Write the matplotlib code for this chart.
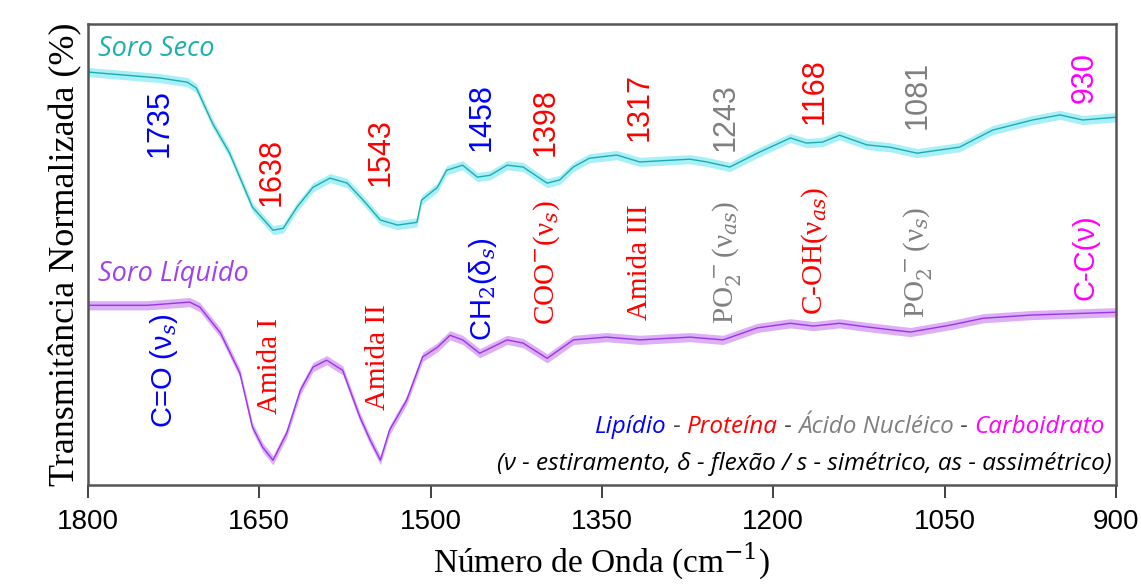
import numpy as np
import matplotlib.pyplot as plt

# Soro Seco (dry serum) spectrum, wavenumber (cm-1) vs normalized transmittance (%)
seco_wn = [1800, 1737, 1713, 1705, 1691, 1676, 1656, 1638, 1629, 1617, 1603, 1588,
           1573, 1559, 1544, 1529, 1512, 1508, 1494, 1486, 1472, 1459, 1448, 1433,
           1419, 1398, 1387, 1375, 1361, 1337, 1317, 1273, 1258, 1238, 1214, 1185,
           1171, 1157, 1142, 1118, 1098, 1074, 1037, 1008, 973, 949, 929, 900]
seco_t = [89.6, 88.3, 87.4, 86.1, 78.5, 72.0, 60.3, 55.3, 55.7, 60.3, 64.6, 66.6,
          65.5, 61.8, 57.5, 56.4, 57.0, 61.8, 64.6, 68.3, 69.4, 66.8, 67.2, 69.4,
          69.0, 65.5, 66.2, 69.0, 70.9, 71.6, 70.1, 70.7, 70.1, 69.0, 72.0, 75.3,
          74.2, 74.4, 75.9, 73.8, 73.3, 72.0, 73.3, 77.0, 79.2, 80.3, 79.2, 79.8]

# Soro Liquido (liquid serum) spectrum
liq_wn = [1800, 1748, 1711, 1702, 1684, 1667, 1656, 1647, 1638, 1626, 1614, 1603,
          1591, 1577, 1562, 1553, 1544, 1536, 1521, 1507, 1494, 1483, 1472, 1457,
          1433, 1419, 1398, 1375, 1346, 1317, 1273, 1244, 1214, 1185, 1165, 1142,
          1118, 1080, 1045, 1016, 973, 900]
liq_t = [39.0, 39.0, 39.7, 38.6, 33.0, 24.3, 12.6, 8.2, 5.4, 11.3, 20.6, 25.6,
         27.1, 24.9, 14.8, 9.8, 5.4, 11.9, 18.4, 27.8, 29.9, 32.5, 31.5, 28.6,
         31.5, 30.8, 27.5, 31.5, 32.1, 31.5, 32.1, 31.5, 34.1, 35.1, 34.5, 35.1,
         34.3, 33.2, 34.7, 36.2, 36.9, 37.5]
band_sd = 1.0

# band assignments
peak_lbl = ['1735', '1638', '1543', '1458', '1398', '1317', '1243', '1168', '1081', '930']
group_lbl = ['C=O (ν$_s$)', 'Amida I', 'Amida II', 'CH$_2$(δ$_s$)',
             'COO$^{-}$(ν$_s$)', 'Amida III', 'PO$_2^{\\,-}$(ν$_{as}$)',
             'C-OH(ν$_{as}$)', 'PO$_2^{\\,-}$(ν$_s$)', 'C-C(ν)']
group_col = ['blue', 'red', 'red', 'blue', 'red', 'red', 'gray', 'red', 'gray', 'magenta']
serif_grp = [False, True, True, False, True, True, True, True, True, False]

# layout for the rotated labels
num_x = [1737, 1639, 1544, 1455, 1399, 1317, 1242, 1164, 1074, 927]
num_y = [78.5, 67.9, 72.2, 79.8, 78.7, 82.0, 79.8, 85.5, 84.6, 88.5]
lbl_x = [1733, 1641, 1546, 1454, 1398, 1317, 1241, 1164, 1074, 927]
lbl_y = [24.9, 25.8, 27.8, 42.5, 48.2, 48.4, 48.4, 50.8, 48.4, 49.5]

plt.rcParams['mathtext.fontset'] = 'dejavuserif'

fig = plt.figure(figsize=(11.41, 5.88), dpi=100, facecolor='w')
ax = fig.add_axes([0.0771, 0.175, 0.9009, 0.784])

s_wn, s_t = np.array(seco_wn), np.array(seco_t)
l_wn, l_t = np.array(liq_wn), np.array(liq_t)
ax.fill_between(s_wn, s_t - band_sd, s_t + band_sd, color='#a8f0f8', lw=0)
ax.plot(s_wn, s_t, color='#22aaaa', lw=1.0)
ax.fill_between(l_wn, l_t - band_sd, l_t + band_sd, color='#ddb0f5', lw=0)
ax.plot(l_wn, l_t, color='#9933ee', lw=1.0)

ax.set_xlim(1800, 900)
ax.set_ylim(0, 100)
ax.set_xticks([1800, 1650, 1500, 1350, 1200, 1050, 900])
ax.set_yticks([])
ax.tick_params(axis='x', direction='out', length=9, width=1.3, color='#333',
               labelsize=20, pad=8)
for t in ax.get_xticklabels():
    t.set_family(['Liberation Sans', 'DejaVu Sans'])
for sp in ax.spines.values():
    sp.set_linewidth(1.8)
    sp.set_color('#555')

ax.set_xlabel(r'Número de Onda (cm$^{-1}$)', fontsize=24, family='Liberation Serif', labelpad=4)
ax.set_ylabel('Transmitância Normalizada (%)', fontsize=26, family='Liberation Serif', labelpad=4)

ax.text(0.01, 0.945, 'Soro Seco', transform=ax.transAxes, color='#1cb0b0', fontsize=19.5,
        style='italic', family=['Open Sans', 'DejaVu Sans'], va='center')
ax.text(0.01, 0.458, 'Soro Líquido', transform=ax.transAxes, color='#a040ee', fontsize=19.5,
        style='italic', family=['Open Sans', 'DejaVu Sans'], va='center')

for i in range(len(peak_lbl)):
    ax.text(num_x[i], num_y[i], peak_lbl[i], rotation=90, color=group_col[i], fontsize=22,
            ha='center', va='center', family=['Liberation Sans', 'DejaVu Sans'])
    fam = 'Liberation Serif' if serif_grp[i] else 'Liberation Sans'
    ax.text(lbl_x[i], lbl_y[i], group_lbl[i], rotation=90, color=group_col[i], fontsize=21,
            ha='center', va='center', family=[fam, 'DejaVu Sans'])

# colour key, built right to left
parts = [('Carboidrato', 'magenta'), (' - ', '#444'), ('Ácido Nucléico', 'gray'),
         (' - ', '#444'), ('Proteína', 'red'), (' - ', '#444'), ('Lipídio', 'blue')]
fkw = dict(fontsize=17.5, style='italic', family=['Open Sans', 'DejaVu Sans'])
prev = ax.text(0.989, 0.10, parts[0][0], transform=ax.transAxes, color=parts[0][1],
               ha='right', va='bottom', **fkw)
for txt, col in parts[1:]:
    prev = ax.annotate(txt, xy=(0, 0), xycoords=prev, ha='right', va='bottom', color=col, **fkw)
ax.text(0.996, 0.02, '(ν - estiramento, δ - flexão / s - simétrico, as - assimétrico)',
        transform=ax.transAxes, color='black', ha='right', va='bottom', **fkw)

fig.savefig('out.png', dpi=100, facecolor='w')
